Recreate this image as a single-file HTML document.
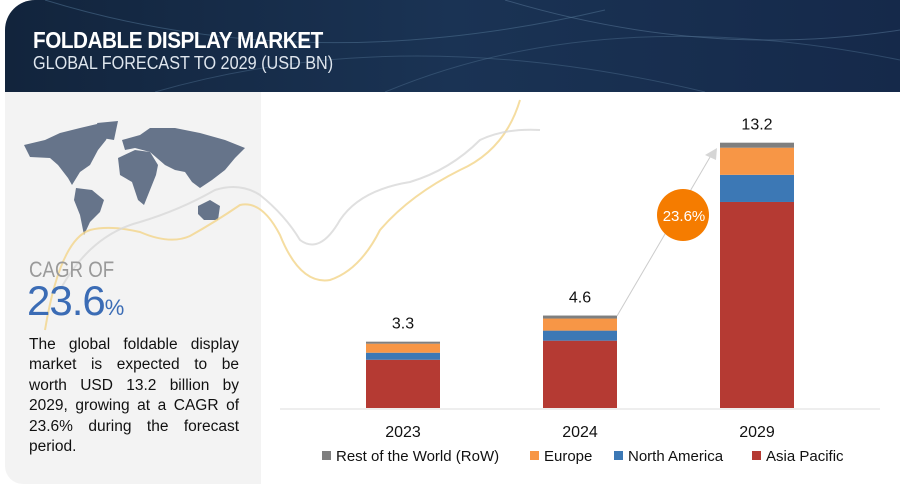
<!DOCTYPE html>
<html><head><meta charset="utf-8">
<style>
body{margin:0;width:900px;height:486px;background:#fff;overflow:hidden;font-family:"Liberation Sans",sans-serif;position:relative}
.hdr{position:absolute;left:5px;top:0;width:895px;height:92px;background:linear-gradient(90deg,#12243c,#1a3354 50%,#15294a);border-radius:30px 0 0 0;overflow:hidden}
.lp{position:absolute;left:5px;top:92px;width:256px;height:392px;background:#f3f3f3;border-radius:0 0 0 18px}
.st div{text-align:justify;text-align-last:justify;white-space:nowrap}
.st div.last{text-align-last:left}
</style></head><body>
<div class="hdr">
<svg width="895" height="92" style="position:absolute;left:0;top:0">
<path d="M40 0 Q300 80 600 10" stroke="#4a6a8a" stroke-width="1" fill="none" opacity=".6"/>
<path d="M150 92 Q400 20 700 92" stroke="#4a6a8a" stroke-width="1" fill="none" opacity=".5"/>
<path d="M500 0 Q700 60 895 30" stroke="#5a7a9a" stroke-width="1" fill="none" opacity=".5"/>
<path d="M380 92 Q600 0 895 60" stroke="#4a6a8a" stroke-width="1" fill="none" opacity=".5"/>
</svg>
<div style="position:absolute;left:28px;top:27px;color:#fff;font-weight:bold;font-size:23px;letter-spacing:-0.5px;transform:scaleX(.9);transform-origin:left">FOLDABLE DISPLAY MARKET</div>
<div style="position:absolute;left:28px;top:53px;color:#dfe6ee;font-size:18px;transform:scaleX(.9);transform-origin:left">GLOBAL FORECAST TO 2029 (USD BN)</div>
</div>
<div class="lp"></div>
<svg width="900" height="486" style="position:absolute;left:0;top:0">
<g fill="#66748a">
<path d="M24 145 L45 140 L60 133 L80 128 L97 124 L112 126 L106 140 L98 150 L90 165 L80 172 L72 185 L68 178 L58 165 L50 158 L30 157Z"/>
<path d="M97 123 L118 121 L114 140 L102 138Z"/>
<path d="M76 188 L92 190 L104 200 L100 212 L90 222 L84 235 L80 215 L74 200Z"/>
<path d="M118 158 L135 150 L150 152 L158 165 L156 175 L150 190 L144 205 L138 200 L132 182 L120 175Z"/>
<path d="M122 140 L140 135 L150 128 L175 128 L200 133 L225 140 L245 148 L235 158 L225 170 L212 180 L200 188 L192 182 L185 172 L175 170 L165 165 L150 152 L135 148 L125 150Z"/>
<path d="M198 206 L210 200 L220 206 L218 220 L204 220 L198 214Z"/>
</g>
<path d="M45 330 Q60 240 90 230 Q110 225 140 232 Q170 245 190 236 Q215 222 240 205 Q262 200 280 235 Q300 285 330 280 Q360 270 380 230 Q410 195 460 170 Q505 150 520 100" stroke="#f2d48a" stroke-width="2" fill="none" opacity=".8"/>
<path d="M60 290 Q90 235 140 222 Q180 210 215 190 Q240 182 260 195 Q285 215 300 240 Q320 255 340 220 Q360 190 410 182 Q450 170 480 140 Q505 128 540 130" stroke="#d8d8d8" stroke-width="2" fill="none" opacity=".8"/>
</svg>
<div style="position:absolute;left:29px;top:257px;color:#9a9a9a;font-size:22px;transform:scaleX(.85);transform-origin:left">CAGR OF</div>
<div style="position:absolute;left:27px;top:277px;color:#3b6cb5;font-size:42px;letter-spacing:-1px">23.6<span style="font-size:22px">%</span></div>
<div class="st" style="position:absolute;left:29px;top:335px;width:210px;font-size:15.5px;line-height:20.4px;color:#111">
<div>The global foldable display</div>
<div>market is expected to be</div>
<div>worth USD 13.2 billion by</div>
<div>2029, growing at a CAGR of</div>
<div>23.6% during the forecast</div>
<div class="last">period.</div>
</div>
<svg id="chart" width="900" height="486" style="position:absolute;left:0;top:0"></svg>
<script>
const categories=["2023","2024","2029"];
const asiaPacific=[2.4,3.35,10.25];
const northAmerica=[0.35,0.5,1.35];
const europe=[0.45,0.6,1.35];
const row=[0.1,0.15,0.25];
const totals=["3.3","4.6","13.2"];
const seriesNames=["Asia Pacific","North America","Europe","Rest of the World (RoW)"];
const colors=["#b53a33","#3c78b5","#f79646","#7f7f7f"];
const series=[asiaPacific,northAmerica,europe,row];
const NS="http://www.w3.org/2000/svg";
const svg=document.getElementById('chart');
const base=408, ppu=20.1;
const y=v=>base-v*ppu;
const x=i=>366+i*177;
const bw=74;
function mk(t,a){const e=document.createElementNS(NS,t);for(const k in a)e.setAttribute(k,a[k]);svg.appendChild(e);return e;}
const ax=mk('line',{x1:280,x2:880,y1:base+1,y2:base+1,stroke:'#ddd','stroke-width':1});


categories.forEach((c,i)=>{
  let cum=0;
  series.forEach((s,j)=>{
    const r=mk('rect',{x:x(i),y:y(cum+s[i]),width:bw,height:s[i]*ppu,fill:colors[j]});
    
    
    cum+=s[i];
  });
  const t=mk('text',{x:x(i)+bw/2,y:y(cum)-13,'text-anchor':'middle','font-size':16,fill:'#111','font-family':'Liberation Sans'});
  t.textContent=totals[i];
  
  
  const l=mk('text',{x:x(i)+bw/2,y:437,'text-anchor':'middle','font-size':16,fill:'#111','font-family':'Liberation Sans'});
  l.textContent=c;
  
  
});
const a=mk('line',{x1:617,y1:316,x2:713,y2:152,stroke:'#ccc','stroke-width':1});


const ah=mk('polygon',{points:'717,148 705,155 716,160',fill:'#d6d6d6'});


const c=mk('circle',{cx:683,cy:215,r:26,fill:'#f57c00'});


const ct=mk('text',{x:684,y:221,'text-anchor':'middle','font-size':15,fill:'#fff','font-family':'Liberation Sans'});
ct.textContent='23.6%';


const leg=[[3,"Rest of the World (RoW)",322],[2,"Europe",530],[1,"North America",614],[0,"Asia Pacific",752]];
leg.forEach(([j,n,lx])=>{
  const r=mk('rect',{x:lx,y:451,width:9,height:9,fill:colors[j]});
  
  
  const t=mk('text',{x:lx+14,y:461,'font-size':15,fill:'#111','font-family':'Liberation Sans'});
  t.textContent=n;
  
  
});
</script>
</body></html>
